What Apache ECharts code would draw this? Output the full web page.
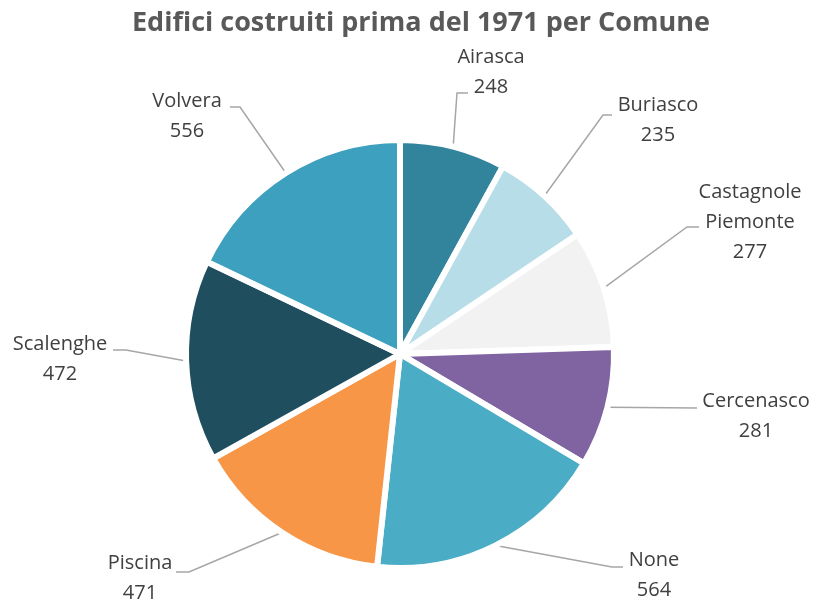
<!DOCTYPE html>
<html><head><meta charset="utf-8">
<script src="https://cdn.jsdelivr.net/npm/echarts@6/dist/echarts.min.js"></script>
<style>html,body{margin:0;padding:0;background:#fff}#c{width:814px;height:605px}</style>
</head><body><div id="c"></div>
<script>
const categories = ["Airasca","Buriasco","Castagnole Piemonte","Cercenasco","None","Piscina","Scalenghe","Volvera"];
const labelNames = ["Airasca","Buriasco","Castagnole\nPiemonte","Cercenasco","None","Piscina","Scalenghe","Volvera"];
const values = [248,235,277,281,564,471,472,556];
const colors = ["#31849B","#B7DEE8","#F2F2F2","#8064A2","#4BACC6","#F79646","#1F4E5F","#3DA0BE"];

// label layout (placement only): label block center, elbow, line end
const labelPlace = [
  {c:[491,72], e:[457,93], t:[468,93]},
  {c:[658,120], e:[603,115], t:[612,115]},
  {c:[750,222], e:[687,227], t:[699,227]},
  {c:[756,416], e:[697,408], t:[697,408]},
  {c:[654,575], e:[612,567], t:[623,567]},
  {c:[140,578], e:[189,572], t:[176,572]},
  {c:[60,359], e:[126,350], t:[113,350]},
  {c:[187,116], e:[240,107], t:[230,107]}
];

const chart = echarts.init(document.getElementById('c'));
chart.setOption({
  animation:false,
  title:{text:"Edifici costruiti prima del 1971 per Comune",left:127,top:5,
    textStyle:{fontFamily:"Open Sans",fontWeight:'bold',fontSize:27,color:'#595959'}},
  series:[{
    type:'pie',
    center:[400,354],
    radius:[0,214],
    startAngle:90,
    clockwise:true,
    itemStyle:{borderColor:'#fff',borderWidth:6},
    label:{show:true,position:'outside',formatter:p=>labelNames[p.dataIndex]+"\n"+p.value,
      fontFamily:"Open Sans",fontSize:20,color:'#404040',lineHeight:30,align:'center'},
    labelLine:{show:true,length:30,length2:25,lineStyle:{color:'#A6A6A6',width:1.5}},
    labelLayout:function(params){
      const lp = labelPlace[params.dataIndex];
      const start = params.labelLinePoints ? params.labelLinePoints[0] : lp.e;
      return {
        x: lp.c[0], y: lp.c[1], align:'center', verticalAlign:'middle',
        labelLinePoints:[start, lp.e, lp.t]
      };
    },
    data:categories.map((c,i)=>({name:c,value:values[i],itemStyle:{color:colors[i]}}))
  }]
});
</script></body></html>
